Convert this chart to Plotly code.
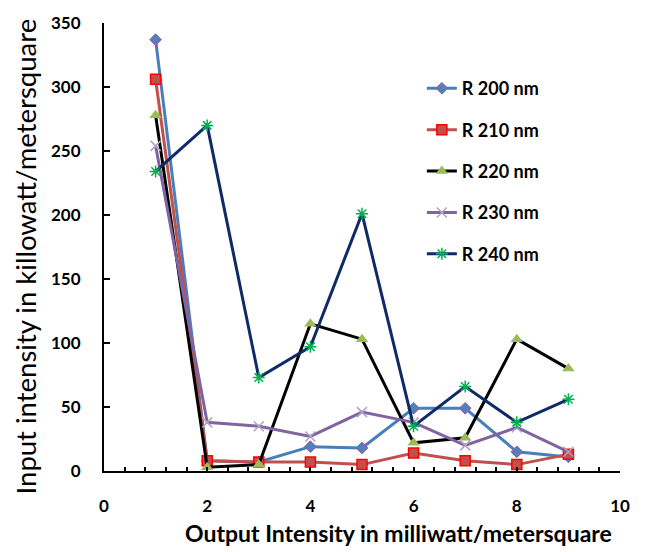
import plotly.graph_objects as go

x_vals = [1, 2, 3, 4, 5, 6, 7, 8, 9]
r200 = [337, 8, 7, 19, 18, 49, 49, 15, 11]
r210 = [306, 8, 7, 7, 5, 14, 8, 5, 13]
r220 = [278, 3, 5, 115, 103, 22, 26, 103, 80]
r230 = [254, 38, 35, 27, 46, 38, 20, 34, 15]
r240 = [234, 270, 73, 97, 201, 35, 66, 38, 56]
names = ["R 200 nm", "R 210 nm", "R 220 nm", "R 230 nm", "R 240 nm"]

styles = [
    dict(line=dict(color="#4A7EBB", width=3),
         marker=dict(symbol="diamond", size=9, color="#4F81BD", line=dict(color="#A0579E", width=1))),
    dict(line=dict(color="#C0504D", width=3),
         marker=dict(symbol="square", size=10, color="#C0504D", line=dict(color="#FF0000", width=1.5))),
    dict(line=dict(color="#000000", width=3),
         marker=dict(symbol="triangle-up", size=11, color="#9BBB59", line=dict(width=0))),
    dict(line=dict(color="#8064A2", width=3),
         marker=dict(symbol="x-thin-open", size=10, color="#B3A2C7", line=dict(color="#B3A2C7", width=1.5))),
    dict(line=dict(color="#0F2A66", width=3),
         marker=dict(symbol="asterisk-open", size=10, color="#00B050", line=dict(color="#00B050", width=1.5))),
]

fig = go.Figure()
for i, (name, ys) in enumerate(zip(names, [r200, r210, r220, r230, r240])):
    fig.add_trace(go.Scatter(x=x_vals, y=ys, name=name, mode="lines+markers",
                             legendgroup=f"g{i}", **styles[i]))

fig.update_layout(
    width=649, height=552,
    margin=dict(l=104, r=29, t=13, b=81),
    plot_bgcolor="white", paper_bgcolor="white",
    font=dict(family="Lato", color="black"),
    legend=dict(x=0.616, y=0.895, xanchor="left", yanchor="top",
                font=dict(size=18, family="Lato", weight="bold"),
                tracegroupgap=15, bgcolor="rgba(0,0,0,0)"),
    xaxis=dict(range=[0, 10], dtick=2, tick0=0, showgrid=False, zeroline=False,
               showline=True, linecolor="black", linewidth=2,
               ticks="inside", ticklen=4, tickwidth=1.5, tickcolor="black",
               minor=dict(dtick=0.4, ticks="inside", ticklen=4, tickwidth=1.5, tickcolor="black", showgrid=False),
               tickfont=dict(size=17, family="Lato", weight="bold"),
               ticklabelstandoff=19),
    yaxis=dict(range=[0, 350], dtick=50, showgrid=False, zeroline=False,
               showline=True, linecolor="black", linewidth=2,
               ticks="inside", ticklen=6, tickwidth=1.5, tickcolor="black",
               tickfont=dict(size=17, family="Lato", weight="bold"),
               ticklabelstandoff=18),
    annotations=[
        dict(text="Output Intensity in milliwatt/metersquare", xref="paper", yref="paper",
             x=0.57, y=-0.138, xanchor="center", yanchor="middle", showarrow=False,
             font=dict(size=23, family="Lato", weight="bold", color="black")),
        dict(text="Input intensity in killowatt/metersquare", xref="paper", yref="paper",
             x=-0.153, y=0.479, xanchor="center", yanchor="middle", showarrow=False, textangle=-90,
             font=dict(size=27.5, family="Lato", color="black")),
    ],
)

fig.write_html("out.html")
